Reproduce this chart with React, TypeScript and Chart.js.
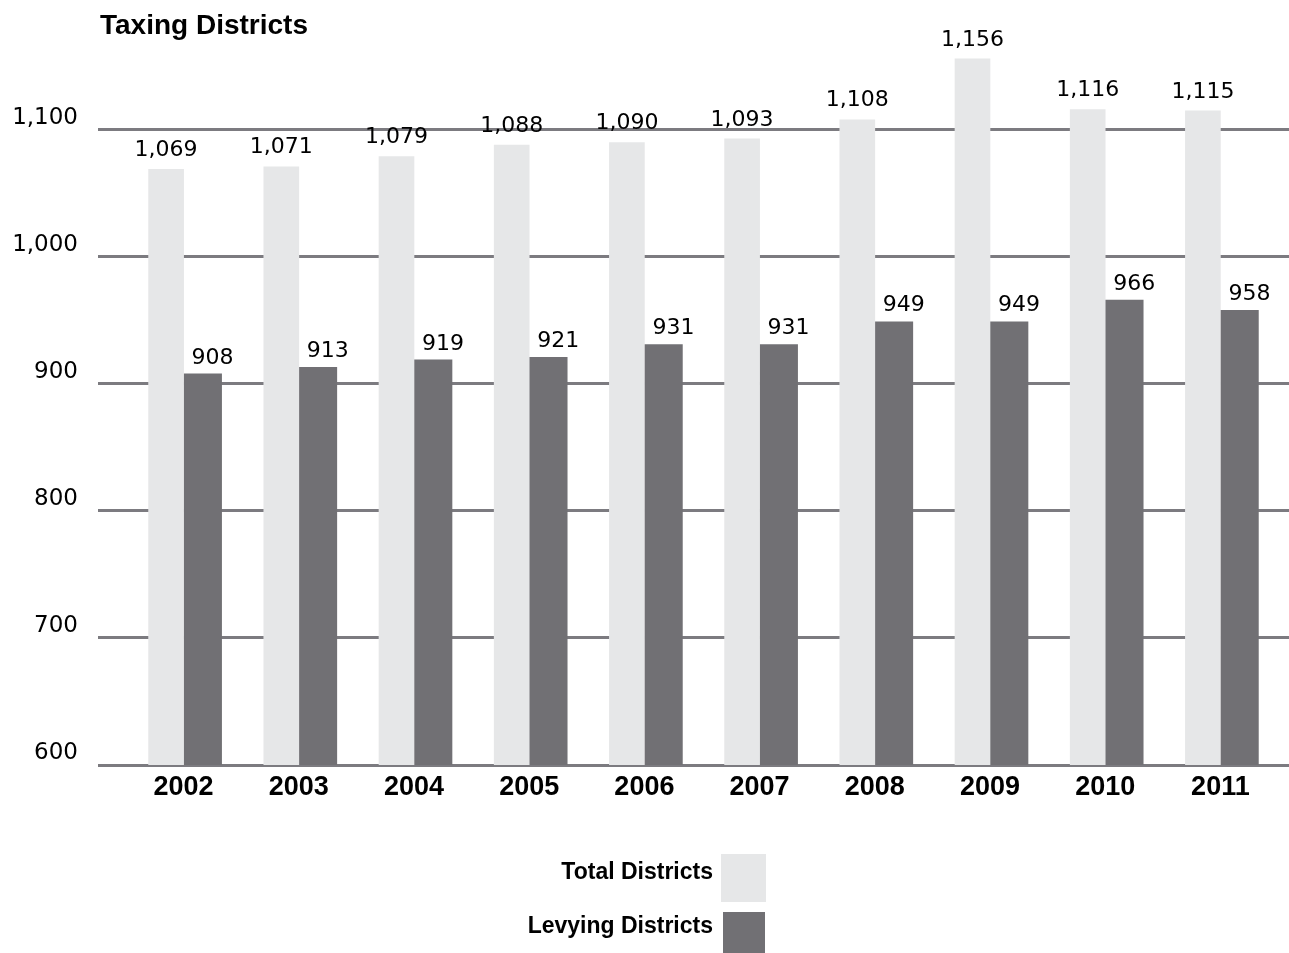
import React, { useEffect, useRef } from "react";
import { Chart, registerables } from "chart.js";

Chart.register(...registerables);

const years = ["2002", "2003", "2004", "2005", "2006", "2007", "2008", "2009", "2010", "2011"];
const totalDistricts = [1069, 1071, 1079, 1088, 1090, 1093, 1108, 1156, 1116, 1115];
const levyingDistricts = [908, 913, 919, 921, 931, 931, 949, 949, 966, 958];
const yTicks = [600, 700, 800, 900, 1000, 1100];

const TOTAL_COLOR = "#e6e7e8";
const LEVY_COLOR = "#717074";
const GRID_COLOR = "#7c7b80";
const GRID_WIDTH = 3;

const fmt = (v: number) => v.toLocaleString("en-US");

const extendGrid = {
  id: "extendGrid",
  beforeDatasetsDraw(chart: any) {
    const { ctx, chartArea, scales } = chart;
    const y = scales.y;
    const half = GRID_WIDTH / 2;
    ctx.save();
    ctx.strokeStyle = GRID_COLOR;
    ctx.lineWidth = GRID_WIDTH;
    ctx.lineCap = "butt";
    yTicks.forEach((v) => {
      const py = Math.round(y.getPixelForValue(v) - half) + half;
      ctx.beginPath();
      ctx.moveTo(chartArea.right - 1, py);
      ctx.lineTo(chart.width, py);
      ctx.stroke();
    });
    ctx.restore();
  },
};

const valueLabels = {
  id: "valueLabels",
  afterDatasetsDraw(chart: any) {
    const { ctx } = chart;
    ctx.save();
    ctx.font = '500 22px "DejaVu Sans"';
    ctx.fillStyle = "#000";
    ctx.textAlign = "center";
    ctx.textBaseline = "middle";
    chart.data.datasets.forEach((ds: any, di: number) => {
      const meta = chart.getDatasetMeta(di);
      meta.data.forEach((el: any, i: number) => {
        const dx = di === 1 ? 10 : 0;
        const gap = di === 1 ? 16 : 19;
        ctx.fillText(fmt(ds.data[i]), el.x + dx, el.y - gap);
      });
    });
    ctx.restore();
  },
};

export default function App() {
  const canvasRef = useRef<HTMLCanvasElement | null>(null);

  useEffect(() => {
    if (!canvasRef.current) return;
    const chart = new Chart(canvasRef.current, {
      type: "bar",
      data: {
        labels: years,
        datasets: [
          {
            label: "Total Districts",
            data: totalDistricts,
            backgroundColor: TOTAL_COLOR,
            barThickness: 35,
            borderWidth: 0,
          },
          {
            label: "Levying Districts",
            data: levyingDistricts,
            backgroundColor: LEVY_COLOR,
            barThickness: 38,
            borderWidth: 0,
          },
        ],
      },
      options: {
        responsive: false,
        animation: false,
        layout: { padding: { left: 0, right: 11, top: 41, bottom: 0 } },
        plugins: {
          legend: { display: false },
          tooltip: { enabled: false },
          title: { display: false },
        },
        scales: {
          x: {
            afterFit: (scale: any) => {
              scale.height = 188;
            },
            grid: { display: false, drawTicks: false },
            border: { display: false },
            ticks: {
              padding: 6,
              color: "#000",
              maxRotation: 0,
              autoSkip: false,
              font: { family: "Liberation Sans", size: 27, weight: "bold" },
            },
          },
          y: {
            min: 600,
            max: 1170,
            afterBuildTicks: (scale: any) => {
              scale.ticks = yTicks.map((v) => ({ value: v }));
            },
            afterFit: (scale: any) => {
              scale.width = 126;
            },
            grid: {
              color: GRID_COLOR,
              lineWidth: GRID_WIDTH,
              drawTicks: true,
              tickLength: 28,
            },
            border: { display: false },
            ticks: {
              padding: 20,
              labelOffset: -12,
              color: "#000",
              font: { family: "DejaVu Sans", size: 23 },
              callback: (v: any) => fmt(Number(v)),
            },
          },
        },
      },
      plugins: [extendGrid, valueLabels],
    });
    return () => chart.destroy();
  }, []);

  const legendText: React.CSSProperties = {
    position: "absolute",
    left: 0,
    width: 713,
    textAlign: "right",
    fontFamily: "Liberation Sans",
    fontWeight: "bold",
    fontSize: 23,
    lineHeight: "23px",
    color: "#000",
    whiteSpace: "nowrap",
  };

  return (
    <div style={{ position: "absolute", left: 0, top: 0, width: 1289, height: 953, background: "#fff", overflow: "hidden" }}>
      <canvas ref={canvasRef} width={1289} height={953} style={{ display: "block", position: "absolute", left: 0, top: 0 }} />
      <div
        style={{
          position: "absolute",
          left: 100,
          top: 11,
          fontFamily: "Liberation Sans",
          fontWeight: "bold",
          fontSize: 28,
          lineHeight: "28px",
          color: "#000",
          whiteSpace: "nowrap",
        }}
      >
        Taxing Districts
      </div>
      <div style={{ ...legendText, top: 860 }}>Total Districts</div>
      <div style={{ position: "absolute", left: 721, top: 854, width: 45, height: 48, background: TOTAL_COLOR }} />
      <div style={{ ...legendText, top: 914 }}>Levying Districts</div>
      <div style={{ position: "absolute", left: 723, top: 912, width: 42, height: 41, background: LEVY_COLOR }} />
    </div>
  );
}
